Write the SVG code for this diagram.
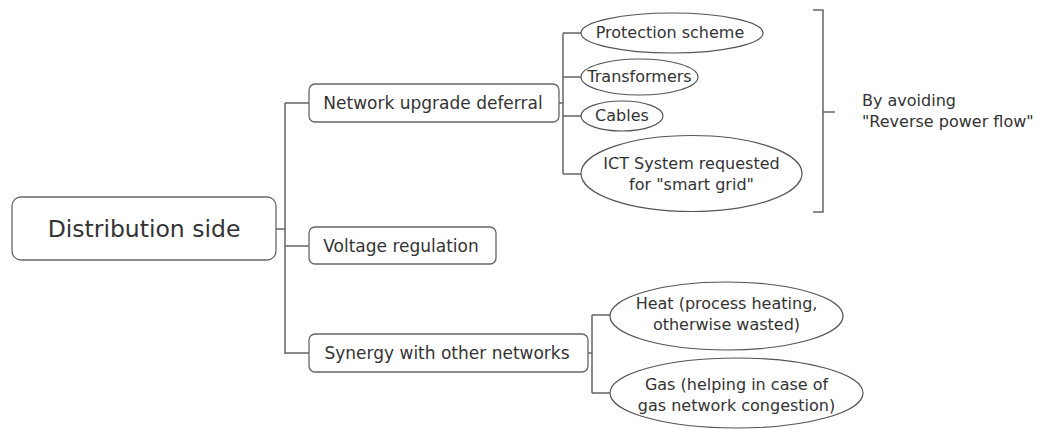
<svg xmlns="http://www.w3.org/2000/svg" width="1037" height="429" viewBox="0 0 1037 429">
<style>
.box{fill:#fff;stroke:#666;stroke-width:1.3}
.ell{fill:#fff;stroke:#555;stroke-width:1.2}
.ln{fill:none;stroke:#666;stroke-width:1.5}
text{font-family:"DejaVu Sans",Verdana,sans-serif;fill:#333;font-size:16px}
.b{font-size:17px}
.c{text-anchor:middle}
</style>
<rect width="1037" height="429" fill="#fff"/>
<g id="connectors">
<path class="ln" d="M276,229 H285 M285,103 V354 M285,103 H309 M285,246 H309 M285,353 H309"/>
<path class="ln" d="M559,103 H563 M563,33 V174 M563,33 H581 M563,77 H581 M563,116 H581 M563,174 H581"/>
<path class="ln" d="M588,353 H592 M592,315 V393 M592,315 H610 M592,393 H610"/>
<path class="ln" d="M813,10 H823 V212 H813 M823,112 H835"/>
</g>
<g id="root">
<rect class="box" x="12" y="197" width="264" height="63" rx="9"/>
<text class="c" x="144" y="237" style="font-size:23.5px">Distribution side</text>
</g>
<g id="network">
<rect class="box" x="309" y="84" width="250" height="38" rx="6"/>
<text class="c b" x="433" y="109">Network upgrade deferral</text>
</g>
<g id="voltage">
<rect class="box" x="309" y="227" width="187" height="37" rx="6"/>
<text class="c b" x="401" y="252">Voltage regulation</text>
</g>
<g id="synergy">
<rect class="box" x="309" y="334" width="279" height="38" rx="6"/>
<text class="c b" x="447" y="359">Synergy with other networks</text>
</g>
<g id="protection">
<ellipse class="ell" cx="672" cy="33" rx="91" ry="20"/>
<text class="c" x="670" y="38">Protection scheme</text>
</g>
<g id="transformers">
<ellipse class="ell" cx="639.5" cy="77" rx="58.5" ry="18"/>
<text class="c" x="639.5" y="82">Transformers</text>
</g>
<g id="cables">
<ellipse class="ell" cx="622" cy="116" rx="41" ry="15"/>
<text class="c" x="622" y="121">Cables</text>
</g>
<g id="ict">
<ellipse class="ell" cx="691.5" cy="173.5" rx="110.5" ry="38"/>
<text class="c" x="691.5" y="169">ICT System requested</text>
<text class="c" x="691.5" y="190">for "smart grid"</text>
</g>
<g id="heat">
<ellipse class="ell" cx="726.5" cy="316" rx="116.5" ry="34"/>
<text class="c" x="726.5" y="309">Heat (process heating,</text>
<text class="c" x="726.5" y="330">otherwise wasted)</text>
</g>
<g id="gas">
<ellipse class="ell" cx="736.5" cy="393" rx="126.5" ry="35"/>
<text class="c" x="736.5" y="390">Gas (helping in case of</text>
<text class="c" x="736.5" y="411">gas network congestion)</text>
</g>
<g id="note">
<text x="862" y="106">By avoiding</text>
<text x="862" y="127">"Reverse power flow"</text>
</g>
</svg>
